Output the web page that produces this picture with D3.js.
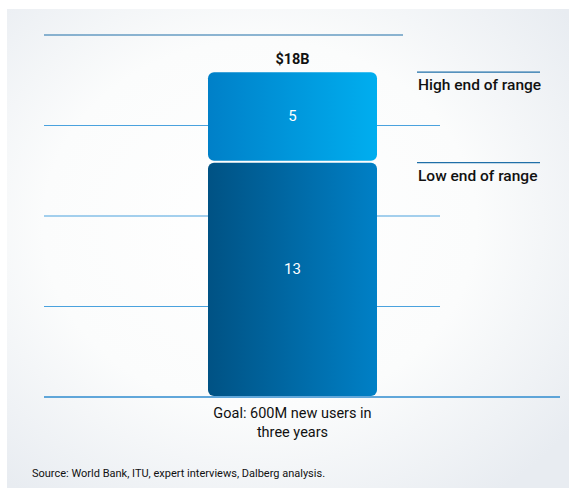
<!DOCTYPE html>
<html><head><meta charset="utf-8">
<script src="https://cdn.jsdelivr.net/npm/d3@7"></script>
<style>body{margin:0;background:#fff;}svg{display:block;font-family:Roboto,"Open Sans",sans-serif;}</style>
</head><body><svg id="c" width="569" height="493"></svg>
<script>
const category = ["Goal: 600M new users in", "three years"];
const segments = ["Low end of range", "High end of range"];
const values = [13, 5];
const totalLabel = "$18B";
const gridTicks = [5, 10, 15, 20];
const source = "Source: World Bank, ITU, expert interviews, Dalberg analysis.";

const svg = d3.select("#c");
const defs = svg.append("defs");
const bg = defs.append("radialGradient").attr("id","bg").attr("cx","45%").attr("cy","45%").attr("r","70%");
bg.append("stop").attr("offset","0%").attr("stop-color","#ffffff");
bg.append("stop").attr("offset","55%").attr("stop-color","#fbfcfc");
bg.append("stop").attr("offset","100%").attr("stop-color","#e8ecf1");
const g1 = defs.append("linearGradient").attr("id","gLow");
g1.append("stop").attr("offset","0%").attr("stop-color","#005284");
g1.append("stop").attr("offset","100%").attr("stop-color","#0080c6");
const g2 = defs.append("linearGradient").attr("id","gHigh");
g2.append("stop").attr("offset","0%").attr("stop-color","#0080c8");
g2.append("stop").attr("offset","100%").attr("stop-color","#00aeef");

svg.append("rect").attr("x",7).attr("y",9).attr("width",562).attr("height",479).attr("fill","url(#bg)");

const y = d3.scaleLinear().domain([0,20]).range([397,35]);

// gridlines
gridTicks.forEach(t => {
  svg.append("line").attr("x1",44).attr("x2", t===20 ? 403 : 440)
    .attr("y1",y(t)).attr("y2",y(t))
    .attr("stroke", t===20 ? "#1f6fa8" : "#4aa2de").attr("stroke-width",1.2);
});
svg.append("line").attr("x1",44).attr("x2",560).attr("y1",y(0)).attr("y2",y(0))
  .attr("stroke","#2e8bcf").attr("stroke-width",1.4);

// bars
const bx = 208, bw = 169;
let cum = 0;
const fills = ["url(#gLow)","url(#gHigh)"];
const labelShift = [-10, 0];
values.forEach((v,i) => {
  const y0 = y(cum), y1 = y(cum+v);
  svg.append("rect").attr("x",bx).attr("y",y1+1).attr("width",bw).attr("height",y0-y1-2)
    .attr("rx",6).attr("fill",fills[i]);
  svg.append("text").attr("x",bx+bw/2).attr("y",(y0+y1)/2+5+labelShift[i]).attr("text-anchor","middle")
    .attr("fill","#fff").attr("font-size",15).text(v);
  // legend
  svg.append("line").attr("x1",417).attr("x2",540).attr("y1",y1+1).attr("y2",y1+1)
    .attr("stroke","#1f6fa8").attr("stroke-width",1.2);
  svg.append("text").attr("x",418).attr("y",y1+19).attr("fill","#111")
    .attr("font-size",15.5).attr("font-weight",500).text(segments[i]);
  cum += v;
});
svg.append("text").attr("x",bx+bw/2).attr("y",y(cum)-7).attr("text-anchor","middle")
  .attr("font-size",14.5).attr("font-weight",700).attr("fill","#111").text(totalLabel);

category.forEach((c,i) => {
  svg.append("text").attr("x",bx+bw/2).attr("y",418+i*19).attr("text-anchor","middle")
    .attr("font-size",14.5).attr("fill","#111").text(c);
});
svg.append("text").attr("x",32).attr("y",477).attr("font-size",11).attr("fill","#111").text(source);
</script></body></html>
